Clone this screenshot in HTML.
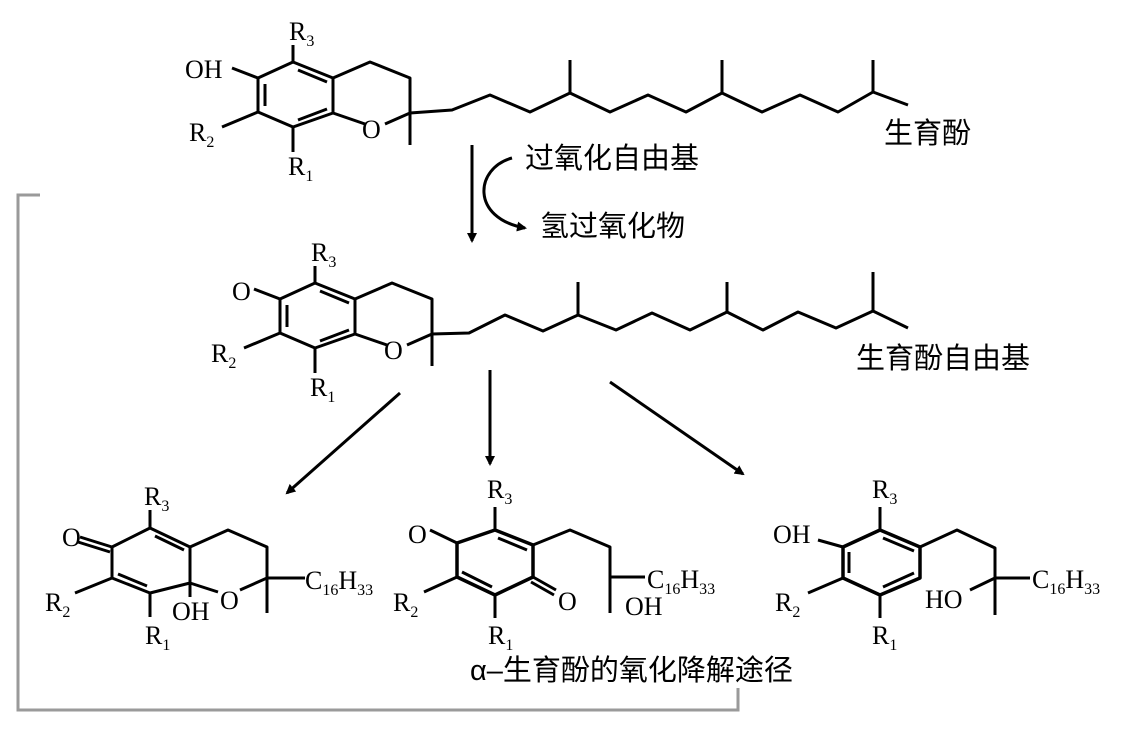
<!DOCTYPE html>
<html><head><meta charset="utf-8"><style>
html,body{margin:0;padding:0;background:#fff}
svg{display:block}
.t{font-family:"Liberation Serif","Noto Serif CJK SC",serif;font-size:26px;fill:#000}
.s{font-size:16px}
.c{font-family:"Liberation Sans","Noto Sans CJK SC",sans-serif;font-size:29px;fill:#000}
</style></head><body>
<svg width="1135" height="744" viewBox="0 0 1135 744" xmlns="http://www.w3.org/2000/svg">
<defs>
<marker id="ah" markerWidth="10" markerHeight="10" refX="8" refY="5" orient="auto" markerUnits="userSpaceOnUse">
<path d="M0,0 L10,5 L0,10 Z" fill="#000"/></marker>
</defs>
<g stroke="#000" stroke-width="3" fill="none" stroke-linejoin="round">
<!-- Molecule 1 -->
<g>
<path d="M293,62 L333,78 L333,113 L293,127 L258,112 L258,78 Z"/>
<path d="M298,70 L327,82 M265,84 L265,106 M298,120 L327,109"/>
<path d="M333,78 L370,62 L410,78 L410,113 L385,124 M365,124 L333,113"/>
<path d="M410,113 L410,145"/>
<path d="M293,62 L293,45 M258,78 L232,68 M258,112 L222,127 M293,127 L293,152"/>
<path d="M410,113 L452,110 L490,95 L530,112 L570,93 L610,112 L648,95 L686,112 L722,93 L762,112 L800,95 L838,112 L873,92 L908,105"/>
<path d="M570,93 L570,60 M722,93 L722,60 M873,92 L873,60"/>
</g>
<!-- Molecule 2 -->
<g transform="translate(22,221)">
<path d="M293,62 L333,78 L333,113 L293,127 L258,112 L258,78 Z"/>
<path d="M298,70 L327,82 M265,84 L265,106 M298,120 L327,109"/>
<path d="M333,78 L370,62 L410,78 L410,113 L385,124 M365,124 L333,113"/>
<path d="M410,113 L410,145"/>
<path d="M293,62 L293,45 M258,78 L232,68 M258,112 L222,127 M293,127 L293,152"/>
</g>
<path d="M432,334 L469,333 L505,315 L543,331 L578,315 L616,330 L652,313 L690,330 L727,312 L763,330 L798,312 L836,328 L873,311 L908,328"/>
<path d="M578,315 L578,282 M727,312 L727,282 M873,311 L873,272"/>
<!-- arrows -->
<path d="M472,145 L472,241" marker-end="url(#ah)"/>
<path d="M512,158 C475,168 470,218 525,228" marker-end="url(#ah)"/>
<path d="M400,393 L287,493" marker-end="url(#ah)"/>
<path d="M490,370 L490,464" marker-end="url(#ah)"/>
<path d="M610,382 L743,474" marker-end="url(#ah)"/>
<!-- Mol A -->
<path d="M150,528 L190,547 L190,583 L150,593 L112,578 L112,547 Z"/>
<path d="M155,536 L184,550 M118,574 L147,586"/>
<path d="M190,547 L228,530 L267,547 L267,578 L240,590 M218,592 L190,583"/>
<path d="M267,578 L305,578 M267,578 L267,613 M190,583 L190,597 M150,593 L150,617 M112,578 L75,593 M150,528 L150,510 M112,547 L80,537 M110,552 L78,542"/>
<!-- Mol B -->
<path d="M495,530 L533,545 L533,577 L495,595 L457,577 L457,543 Z" stroke-width="3.5"/>
<path d="M498,538 L527,550 M462,572 L492,587"/>
<path d="M457,543 L430,530 M533,577 L556,590 M531,582 L554,595 M495,530 L495,507 M457,577 L424,592 M495,595 L495,618"/>
<path d="M533,545 L570,530 L610,547 L610,613 M610,577 L645,577"/>
<!-- Mol C -->
<path d="M880,530 L920,547 L920,578 L880,595 L843,578 L843,547 Z" stroke-width="3.5"/>
<path d="M883,538 L914,551 M849,552 L849,573 M883,587 L914,573"/>
<path d="M843,547 L818,540 M880,530 L880,507 M843,578 L808,593 M880,595 L880,618"/>
<path d="M920,547 L957,530 L995,548 L995,615 M995,578 L1030,578 M995,578 L970,590"/>
</g>
<!-- bracket -->
<path d="M40,195 L18,195 L18,710 L738,710 L738,688" stroke="#9a9a9a" stroke-width="3" fill="none"/>
<!-- labels mol1 -->
<text class="t" x="289" y="40">R<tspan class="s" dy="6">3</tspan></text>
<text class="t" x="185" y="78">OH</text>
<text class="t" x="189" y="141">R<tspan class="s" dy="6">2</tspan></text>
<text class="t" x="288" y="175">R<tspan class="s" dy="6">1</tspan></text>
<text class="t" x="362" y="138">O</text>
<text class="c" x="884" y="143">生育酚</text>
<text class="c" x="525" y="168">过氧化自由基</text>
<text class="c" x="540" y="236">氢过氧化物</text>
<!-- mol2 -->
<text class="t" x="311" y="261">R<tspan class="s" dy="6">3</tspan></text>
<text class="t" x="232" y="300">O</text>
<text class="t" x="211" y="362">R<tspan class="s" dy="6">2</tspan></text>
<text class="t" x="310" y="396">R<tspan class="s" dy="6">1</tspan></text>
<text class="t" x="384" y="359">O</text>
<text class="c" x="856" y="368">生育酚自由基</text>
<!-- mol A -->
<text class="t" x="144" y="505">R<tspan class="s" dy="6">3</tspan></text>
<text class="t" x="62" y="546">O</text>
<text class="t" x="45" y="611">R<tspan class="s" dy="6">2</tspan></text>
<text class="t" x="145" y="644">R<tspan class="s" dy="6">1</tspan></text>
<text class="t" x="172" y="620">OH</text>
<text class="t" x="220" y="609">O</text>
<text class="t" x="305" y="589">C<tspan class="s" dy="6">16</tspan><tspan dy="-6">H</tspan><tspan class="s" dy="6">33</tspan></text>
<!-- mol B -->
<text class="t" x="487" y="498">R<tspan class="s" dy="6">3</tspan></text>
<text class="t" x="408" y="543">O</text>
<text class="t" x="393" y="611">R<tspan class="s" dy="6">2</tspan></text>
<text class="t" x="488" y="644">R<tspan class="s" dy="6">1</tspan></text>
<text class="t" x="558" y="610">O</text>
<text class="t" x="647" y="588">C<tspan class="s" dy="6">16</tspan><tspan dy="-6">H</tspan><tspan class="s" dy="6">33</tspan></text>
<text class="t" x="625" y="615">OH</text>
<!-- mol C -->
<text class="t" x="872" y="498">R<tspan class="s" dy="6">3</tspan></text>
<text class="t" x="773" y="543">OH</text>
<text class="t" x="775" y="611">R<tspan class="s" dy="6">2</tspan></text>
<text class="t" x="872" y="644">R<tspan class="s" dy="6">1</tspan></text>
<text class="t" x="925" y="608">HO</text>
<text class="t" x="1032" y="588">C<tspan class="s" dy="6">16</tspan><tspan dy="-6">H</tspan><tspan class="s" dy="6">33</tspan></text>
<text class="c" x="470" y="680">α–生育酚的氧化降解途径</text>
</svg>
</body></html>
